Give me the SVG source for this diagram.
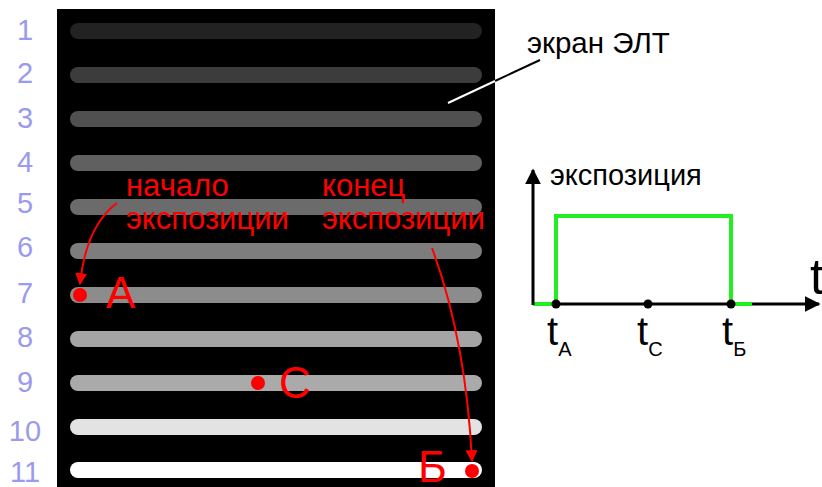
<svg xmlns="http://www.w3.org/2000/svg" width="822" height="487" viewBox="0 0 822 487">
<defs>
<style>
.num{font-family:"Liberation Sans",Arial,sans-serif;font-size:29px;fill:#9a9aee;text-anchor:middle}
.red{font-family:"Liberation Sans",Arial,sans-serif;font-size:31px;fill:#ff0000}
.big{font-family:"Liberation Sans",Arial,sans-serif;font-size:44px;fill:#ff0000}
.blk{font-family:"Liberation Sans",Arial,sans-serif;fill:#000}
.bar{stroke-width:16;stroke-linecap:round}
</style>
<marker id="ar" viewBox="0 0 10 10" refX="9" refY="5" markerWidth="12" markerHeight="12" markerUnits="userSpaceOnUse" orient="auto"><path d="M0,0 L10,5 L0,10 z" fill="#ff0000"/></marker>
<marker id="ak" viewBox="0 0 10 10" refX="9" refY="5" markerWidth="16" markerHeight="16" markerUnits="userSpaceOnUse" orient="auto"><path d="M0,0 L10,5 L0,10 z" fill="#000"/></marker>
</defs>
<rect width="822" height="487" fill="#fff"/>
<g id="screen">
<rect x="57" y="9" width="438" height="478" fill="#000"/>
<line class="bar" x1="78" y1="31" x2="474" y2="31" stroke="#222"/>
<line class="bar" x1="78" y1="75" x2="474" y2="75" stroke="#3c3c3c"/>
<line class="bar" x1="78" y1="119" x2="474" y2="119" stroke="#505050"/>
<line class="bar" x1="78" y1="163" x2="474" y2="163" stroke="#606060"/>
<line class="bar" x1="78" y1="207" x2="474" y2="207" stroke="#6b6b6b"/>
<line class="bar" x1="78" y1="251" x2="474" y2="251" stroke="#7d7d7d"/>
<line class="bar" x1="78" y1="295" x2="474" y2="295" stroke="#8c8c8c"/>
<line class="bar" x1="78" y1="339" x2="474" y2="339" stroke="#a5a5a5"/>
<line class="bar" x1="78" y1="383" x2="474" y2="383" stroke="#aaaaaa"/>
<line class="bar" x1="78" y1="427" x2="474" y2="427" stroke="#e3e3e3"/>
<line class="bar" x1="78" y1="470" x2="474" y2="470" stroke="#ffffff"/>
</g>
<g id="numbers">
<text class="num" x="25" y="40">1</text>
<text class="num" x="25" y="83">2</text>
<text class="num" x="25" y="128">3</text>
<text class="num" x="25" y="172">4</text>
<text class="num" x="25" y="213">5</text>
<text class="num" x="25" y="257">6</text>
<text class="num" x="25" y="303">7</text>
<text class="num" x="25" y="347">8</text>
<text class="num" x="25" y="392">9</text>
<text class="num" x="25" y="441">10</text>
<text class="num" x="25" y="482">11</text>
</g>
<g id="pointA">
<circle cx="80" cy="295" r="7" fill="#ff0000"/>
<text class="big" x="106" y="308">А</text>
</g>
<g id="pointC">
<circle cx="258" cy="383" r="7" fill="#ff0000"/>
<text class="big" x="279" y="398">С</text>
</g>
<g id="pointB">
<circle cx="472" cy="471" r="7" fill="#ff0000"/>
<text class="big" x="418" y="482">Б</text>
</g>
<g id="label-start">
<text class="red" x="126" y="196">начало</text>
<text class="red" x="126" y="229">экспозиции</text>
</g>
<g id="label-end">
<text class="red" x="322" y="196">конец</text>
<text class="red" x="322" y="229">экспозиции</text>
</g>
<g id="label-crt">
<text class="blk" x="527" y="53" font-size="29.5">экран ЭЛТ</text>
</g>
<g id="connectors">
<path d="M117,203 Q86,226 80,284" fill="none" stroke="#ff0000" stroke-width="2" marker-end="url(#ar)"/>
<path d="M432,248 Q466,340 472,461" fill="none" stroke="#ff0000" stroke-width="2" marker-end="url(#ar)"/>
<line x1="540" y1="60" x2="495" y2="81" stroke="#000" stroke-width="2"/>
<line x1="495" y1="81" x2="448" y2="103" stroke="#fff" stroke-width="2"/>
</g>
<g id="chart">
<polyline points="533,304 556,304 556,216 731,216 731,304 752,304" fill="none" stroke="#22ee22" stroke-width="4"/>
<line x1="533" y1="305" x2="533" y2="170" stroke="#000" stroke-width="3" marker-end="url(#ak)"/>
<line x1="556" y1="304" x2="731" y2="304" stroke="#000" stroke-width="3"/>
<line x1="752" y1="304" x2="819" y2="304" stroke="#000" stroke-width="3" marker-end="url(#ak)"/>
<circle cx="556" cy="304" r="4.5" fill="#000"/>
<circle cx="648" cy="304" r="4.5" fill="#000"/>
<circle cx="731" cy="304" r="4.5" fill="#000"/>
<text class="blk" x="550" y="185" font-size="29">экспозиция</text>
<text class="blk" x="810" y="294" font-size="50">t</text>
<text class="blk" x="547" y="345" font-size="40">t<tspan font-size="20" dy="11">А</tspan></text>
<text class="blk" x="637" y="345" font-size="40">t<tspan font-size="20" dy="11">С</tspan></text>
<text class="blk" x="722" y="345" font-size="40">t<tspan font-size="20" dy="11">Б</tspan></text>
</g>
</svg>
